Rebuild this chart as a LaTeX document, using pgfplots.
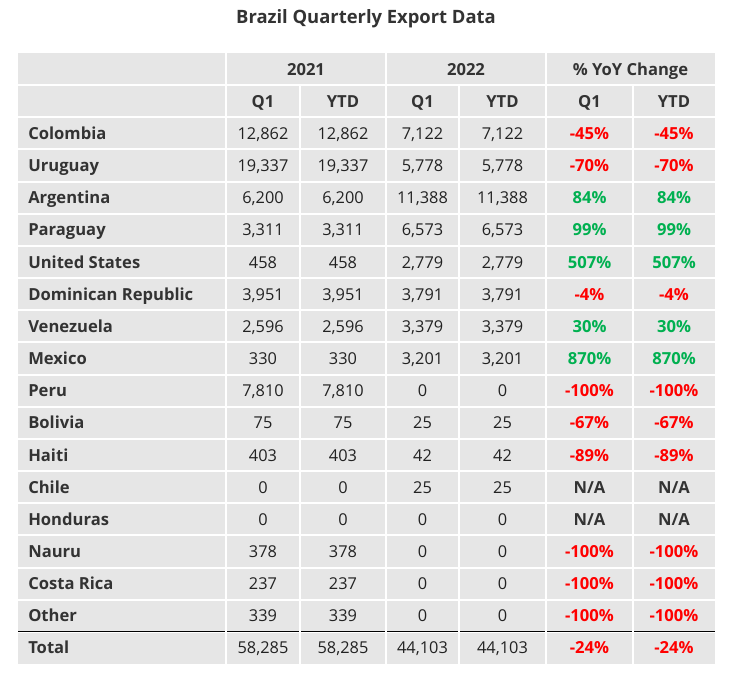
\documentclass[border=0pt]{standalone}
\usepackage{pgfplots}
\pgfplotsset{compat=1.18}
\usepackage{pgfplotstable}
\usepackage{fontspec}
\setmainfont{Open Sans}
\definecolor{cellgray}{HTML}{E6E6E6}
\definecolor{txt}{HTML}{222222}
\definecolor{hdr}{HTML}{333333}
\definecolor{neg}{HTML}{FF0000}
\definecolor{pos}{HTML}{00B050}

\pgfplotstableread{
r name a b c d
2 Colombia 12,862 12,862 7,122 7,122
3 Uruguay 19,337 19,337 5,778 5,778
4 Argentina 6,200 6,200 11,388 11,388
5 Paraguay 3,311 3,311 6,573 6,573
6 {United States} 458 458 2,779 2,779
7 {Dominican Republic} 3,951 3,951 3,791 3,791
8 Venezuela 2,596 2,596 3,379 3,379
9 Mexico 330 330 3,201 3,201
10 Peru 7,810 7,810 0 0
11 Bolivia 75 75 25 25
12 Haiti 403 403 42 42
13 Chile 0 0 25 25
14 Honduras 0 0 0 0
15 Nauru 378 378 0 0
16 {Costa Rica} 237 237 0 0
17 Other 339 339 0 0
18 Total 58,285 58,285 44,103 44,103
}\datatable

\pgfplotstableread{
r q y
2 -45\% -45\%
3 -70\% -70\%
7 -4\% -4\%
10 -100\% -100\%
11 -67\% -67\%
12 -89\% -89\%
15 -100\% -100\%
16 -100\% -100\%
17 -100\% -100\%
18 -24\% -24\%
}\negtable

\pgfplotstableread{
r q y
4 84\% 84\%
5 99\% 99\%
6 507\% 507\%
8 30\% 30\%
9 870\% 870\%
}\postable

\pgfplotstableread{
r q y
13 N/A N/A
14 N/A N/A
}\natable

\tikzset{cell/.style={inner sep=0pt, text height=9pt, text depth=0pt}}
\pgfplotsset{
  celltext/.style 2 args={only marks, mark=*, mark size=0pt,
    mark options={draw=none, fill=none},
    point meta=explicit symbolic, nodes near coords,
    every node near coord/.append style={cell, anchor=#1,
      opacity=1, text opacity=1, font=#2}},
}
\newcommand{\regf}{\fontsize{12.25}{14}\selectfont}
\newcommand{\bldf}{\bfseries\fontsize{12.45}{14}\selectfont}

\begin{document}
\begin{tikzpicture}
\begin{axis}[scale only axis, width=549pt, height=510pt,
  xmin=0, xmax=732, ymin=-1.648, ymax=19.496, y dir=reverse,
  hide axis, clip=false]
\fill[white] (axis cs:0,-1.648) rectangle (axis cs:732,19.496);
\fill[cellgray] (axis cs:18,0) rectangle (axis cs:715,19);
\pgfplotsinvokeforeach{1,...,18}{
  \draw[white, line width=1.5pt] (axis cs:18,#1) -- (axis cs:715,#1);
}
\draw[black, line width=0.9pt] (axis cs:18,18) -- (axis cs:715,18);
\pgfplotsinvokeforeach{226,386,546}{
  \draw[white, line width=1.5pt] (axis cs:#1,0) -- (axis cs:#1,19);
}
\pgfplotsinvokeforeach{300,459,633}{
  \draw[white, line width=1.5pt] (axis cs:#1,1) -- (axis cs:#1,19);
}
% title and headers
\node[cell, text height=10pt, font=\bfseries\fontsize{13.8}{16}\selectfont, text=hdr] at (axis cs:366,-1.119) {Brazil Quarterly Export Data};
\node[cell, font=\bldf, text=hdr] at (axis cs:306,0.5) {2021};
\node[cell, font=\bldf, text=hdr] at (axis cs:466,0.5) {2022};
\node[cell, font=\bldf, text=hdr] at (axis cs:630.5,0.5) {\% YoY Change};
\node[cell, font=\bldf, text=hdr] at (axis cs:263,1.5) {Q1};
\node[cell, font=\bldf, text=hdr] at (axis cs:343,1.5) {YTD};
\node[cell, font=\bldf, text=hdr] at (axis cs:422.5,1.5) {Q1};
\node[cell, font=\bldf, text=hdr] at (axis cs:502.5,1.5) {YTD};
\node[cell, font=\bldf, text=hdr] at (axis cs:589.5,1.5) {Q1};
\node[cell, font=\bldf, text=hdr] at (axis cs:674,1.5) {YTD};
% body
\addplot[celltext={west}{\bldf}, every node near coord/.append style={text=hdr}]
  table[x expr=28, y expr=\thisrow{r}+0.5, meta=name] {\datatable};
\addplot[celltext={center}{\regf}, every node near coord/.append style={text=txt}]
  table[x expr=263, y expr=\thisrow{r}+0.5, meta=a] {\datatable};
\addplot[celltext={center}{\regf}, every node near coord/.append style={text=txt}]
  table[x expr=343, y expr=\thisrow{r}+0.5, meta=b] {\datatable};
\addplot[celltext={center}{\regf}, every node near coord/.append style={text=txt}]
  table[x expr=422.5, y expr=\thisrow{r}+0.5, meta=c] {\datatable};
\addplot[celltext={center}{\regf}, every node near coord/.append style={text=txt}]
  table[x expr=502.5, y expr=\thisrow{r}+0.5, meta=d] {\datatable};
\addplot[celltext={center}{\bldf}, every node near coord/.append style={text=neg}]
  table[x expr=589.5, y expr=\thisrow{r}+0.5, meta=q] {\negtable};
\addplot[celltext={center}{\bldf}, every node near coord/.append style={text=neg}]
  table[x expr=674, y expr=\thisrow{r}+0.5, meta=y] {\negtable};
\addplot[celltext={center}{\bldf}, every node near coord/.append style={text=pos}]
  table[x expr=589.5, y expr=\thisrow{r}+0.5, meta=q] {\postable};
\addplot[celltext={center}{\bldf}, every node near coord/.append style={text=pos}]
  table[x expr=674, y expr=\thisrow{r}+0.5, meta=y] {\postable};
\addplot[celltext={center}{\bldf}, every node near coord/.append style={text=hdr}]
  table[x expr=589.5, y expr=\thisrow{r}+0.5, meta=q] {\natable};
\addplot[celltext={center}{\bldf}, every node near coord/.append style={text=hdr}]
  table[x expr=674, y expr=\thisrow{r}+0.5, meta=y] {\natable};
\end{axis}
\end{tikzpicture}
\end{document}
